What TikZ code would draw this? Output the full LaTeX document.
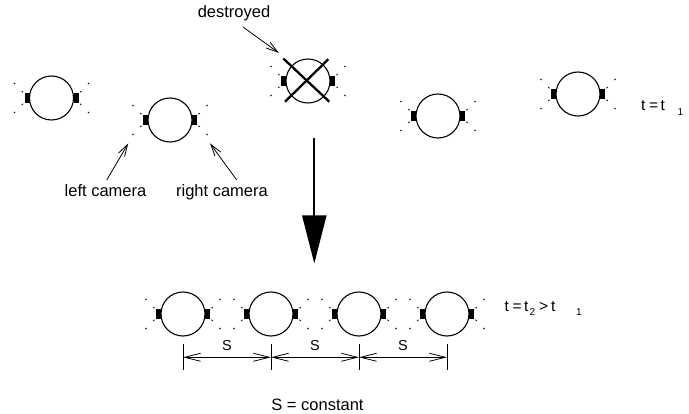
\documentclass[tikz,border=0pt]{standalone}
\usepackage{fontspec}
\setmainfont{Liberation Sans}
\usetikzlibrary{arrows.meta}
\tikzset{
  ring/.style={circle, draw, line width=1.1pt, minimum size=44pt, inner sep=0pt},
  ray/.style={line width=0.9pt},
  lbl/.style={font=\fontsize{16.5}{19}\selectfont, inner sep=0pt},
  tlbl/.style={font=\fontsize{15.5}{18}\selectfont, inner sep=0pt, anchor=base west},
  sublbl/.style={font=\fontsize{10}{12}\selectfont, inner sep=0pt, anchor=base west},
  pointer/.style={line width=0.8pt, -{Straight Barb[length=12pt,width=7pt]}},
  dimline/.style={line width=0.8pt, {Straight Barb[length=16pt,width=8pt]}-{Straight Barb[length=16pt,width=8pt]}},
  tick/.style={line width=0.9pt},
  camunit/.pic={
    \node[ring] (c) at (0,0) {};
    \fill (-27,-5) rectangle (-22,5);
    \fill (22,-5) rectangle (27,5);
    \foreach \sx in {-1,1}{\foreach \sy in {-1,1}{
      \draw[ray] (\sx*28.6,\sy*5.8) -- (\sx*29.7,\sy*6.9);
      \draw[ray] (\sx*36.4,\sy*14.0) -- (\sx*37.5,\sy*15.1);
    }}
  },
}
\begin{document}
\begin{tikzpicture}[x=1pt,y=-1pt]
\useasboundingbox (0,0) rectangle (689,414);

% top row (t = t1)
\pic (u1) at (51.5,98) {camunit};
\pic (u2) at (170,120) {camunit};
\pic (u3) at (308,81) {camunit};
\pic (u4) at (438,116) {camunit};
\pic (u5) at (578,94) {camunit};

% destroyed cross
\coordinate (x1a) at (283.3,58.5);
\coordinate (x1b) at (329.3,101.7);
\coordinate (x2a) at (328.3,59.3);
\coordinate (x2b) at (285,101.7);
\draw[line width=2.3pt] (x1a) -- (x1b);
\draw[line width=2.3pt] (x2a) -- (x2b);

% labels with pointers
\node[lbl, anchor=base] (destr) at (234,18) {destroyed};
\coordinate (destrFrom) at (243,27);
\coordinate (destrTip) at (279,53);
\draw[pointer] (destrFrom) -- (destrTip);

\node[lbl, anchor=base] (lcam) at (105.5,196.5) {left camera};
\node[lbl, anchor=base] (rcam) at (222,196.5) {right camera};
\coordinate (lcFrom) at (106.7,180);
\coordinate (lcTip) at (128.3,143.3);
\coordinate (rcFrom) at (236.7,180);
\coordinate (rcTip) at (210,143.3);
\draw[pointer] (lcFrom) -- (lcTip);
\draw[pointer] (rcFrom) -- (rcTip);

\node[tlbl] (tA) at (641,110.7) {t\kern3.5pt=\kern2.5pt t};
\node[sublbl] (tAs) at (677.5,115.5) {1};

% big arrow
\coordinate (bigFrom) at (314.3,138);
\coordinate (bigTo) at (314.3,263.5);
\draw[line width=2pt, -{Triangle[length=48pt,width=24pt]}] (bigFrom) -- (bigTo);

% bottom row (t = t2 > t1)
\pic (v1) at (183,314) {camunit};
\pic (v2) at (271,314) {camunit};
\pic (v3) at (359,314) {camunit};
\pic (v4) at (447,314) {camunit};

\node[tlbl] (tB) at (504.5,311.7) {t\kern3.5pt=\kern2.5pt t};
\node[sublbl] (tBs) at (529.5,315.7) {2};
\node[tlbl] (tBgt) at (539,311.7) {>\kern3pt t};
\node[sublbl] (tBs1) at (576,315.5) {1};

% dimension ticks
\foreach \i/\x in {1/183,2/271,3/359,4/447}{
  \coordinate (k\i t) at (\x,344);
  \coordinate (k\i b) at (\x,370);
  \coordinate (k\i m) at (\x,357.3);
  \draw[tick] (k\i t) -- (k\i b);
}
\draw[dimline] (k1m) -- (k2m);
\draw[dimline] (k2m) -- (k3m);
\draw[dimline] (k3m) -- (k4m);
\node[lbl, font=\fontsize{14.5}{16}\selectfont, anchor=base] (s1) at (227,350.5) {S};
\node[lbl, font=\fontsize{14.5}{16}\selectfont, anchor=base] (s2) at (315,350.5) {S};
\node[lbl, font=\fontsize{14.5}{16}\selectfont, anchor=base] (s3) at (403,350.5) {S};

\node[lbl, anchor=base] (sconst) at (317.5,410) {S = constant};
\end{tikzpicture}
\end{document}
